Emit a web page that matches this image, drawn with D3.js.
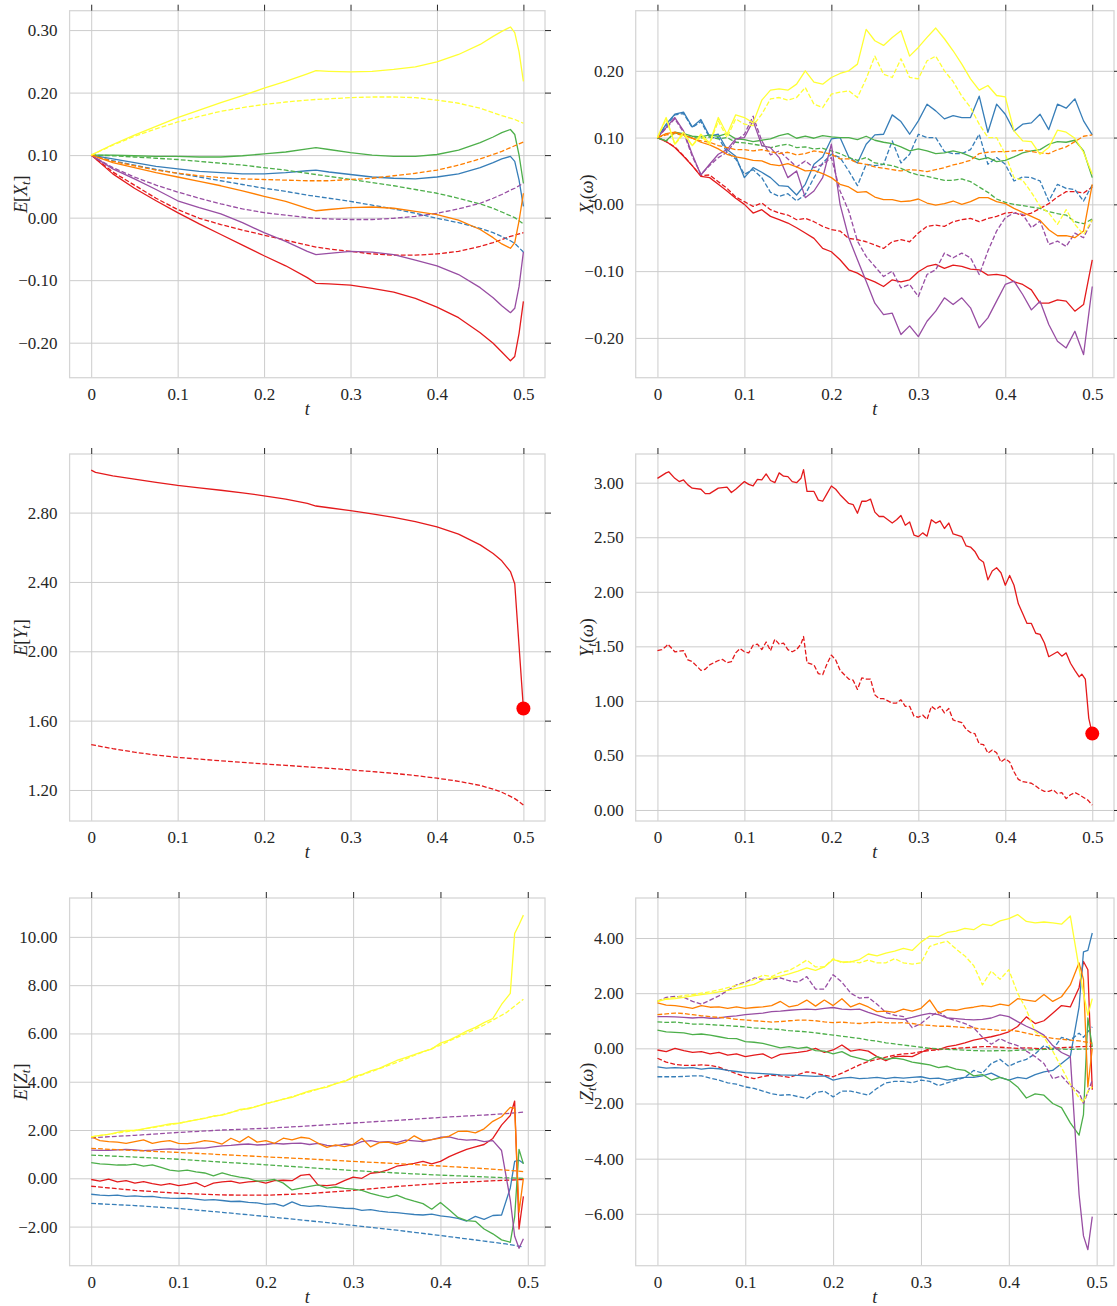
<!DOCTYPE html>
<html>
<head>
<meta charset="utf-8">
<script src="https://cdn.jsdelivr.net/npm/d3@7"></script>
<style>
  body { margin: 0; background: #fff; }
  svg text { font-family: "Liberation Serif", "DejaVu Serif", serif; fill: #262626; }
</style>
</head>
<body>
<div id="chart"></div>
<script>
// ---- time grids ----
const tEX = [0,0.025,0.05,0.075,0.1,0.125,0.15,0.175,0.2,0.225,0.25,0.26,0.275,0.3,0.325,0.35,0.375,0.4,0.425,0.45,0.465,0.475,0.485,0.49,0.495,0.5];
const tEY = [0,0.005,0.025,0.05,0.075,0.1,0.125,0.15,0.175,0.2,0.225,0.25,0.26,0.275,0.3,0.325,0.35,0.375,0.4,0.425,0.45,0.465,0.475,0.485,0.49,0.495,0.5];
const tPath = [0,0.01,0.02,0.03,0.04,0.05,0.06,0.07,0.08,0.09,0.1,0.11,0.12,0.13,0.14,0.15,0.16,0.17,0.18,0.19,0.2,0.21,0.22,0.23,0.24,0.25,0.26,0.27,0.28,0.29,0.3,0.31,0.32,0.33,0.34,0.35,0.36,0.37,0.38,0.39,0.4,0.41,0.42,0.43,0.44,0.45,0.46,0.47,0.48,0.49,0.5];
const tZ = [0,0.01,0.02,0.03,0.04,0.05,0.06,0.07,0.08,0.09,0.1,0.11,0.12,0.13,0.14,0.15,0.16,0.17,0.18,0.19,0.2,0.21,0.22,0.23,0.24,0.25,0.26,0.27,0.28,0.29,0.3,0.31,0.32,0.33,0.34,0.35,0.36,0.37,0.38,0.39,0.4,0.41,0.42,0.43,0.44,0.45,0.46,0.47,0.48,0.485,0.49,0.495];
const tZMean = [0,0.05,0.1,0.15,0.2,0.25,0.3,0.35,0.4,0.45,0.475,0.495];

// ---- E[X_t] ----
const exRedS = [0.100,0.070,0.047,0.027,0.008,-0.010,-0.027,-0.044,-0.061,-0.077,-0.096,-0.105,-0.106,-0.108,-0.113,-0.119,-0.129,-0.143,-0.160,-0.184,-0.201,-0.215,-0.229,-0.222,-0.185,-0.134];
const exRedD = [0.100,0.073,0.052,0.031,0.013,-0.001,-0.011,-0.020,-0.028,-0.036,-0.044,-0.047,-0.050,-0.054,-0.058,-0.060,-0.060,-0.058,-0.054,-0.046,-0.040,-0.035,-0.030,-0.028,-0.026,-0.024];
const exBlueS = [0.100,0.094,0.088,0.082,0.078,0.074,0.072,0.070,0.070,0.072,0.075,0.076,0.073,0.069,0.065,0.063,0.062,0.065,0.070,0.080,0.088,0.094,0.098,0.090,0.060,0.018];
const exBlueD = [0.100,0.091,0.084,0.077,0.071,0.065,0.059,0.053,0.047,0.042,0.036,0.034,0.031,0.026,0.020,0.014,0.007,-0.001,-0.008,-0.017,-0.024,-0.030,-0.037,-0.041,-0.048,-0.055];
const exGreenS = [0.100,0.100,0.099,0.098,0.098,0.097,0.097,0.099,0.102,0.105,0.110,0.112,0.109,0.104,0.100,0.098,0.098,0.101,0.108,0.120,0.129,0.136,0.141,0.133,0.100,0.055];
const exGreenD = [0.100,0.099,0.097,0.095,0.093,0.090,0.087,0.084,0.080,0.076,0.071,0.069,0.066,0.061,0.056,0.051,0.045,0.039,0.031,0.022,0.015,0.009,0.003,0.000,-0.005,-0.010];
const exPurpleS = [0.100,0.078,0.062,0.045,0.027,0.016,0.006,-0.008,-0.024,-0.038,-0.054,-0.059,-0.057,-0.054,-0.055,-0.059,-0.068,-0.077,-0.091,-0.112,-0.128,-0.141,-0.152,-0.145,-0.110,-0.055];
const exPurpleD = [0.100,0.080,0.065,0.052,0.041,0.031,0.022,0.014,0.008,0.004,0.000,-0.001,-0.002,-0.003,-0.003,-0.001,0.002,0.007,0.014,0.023,0.031,0.037,0.044,0.047,0.051,0.055];
const exOrangeS = [0.100,0.088,0.080,0.072,0.065,0.058,0.051,0.043,0.034,0.026,0.015,0.011,0.013,0.016,0.017,0.015,0.010,0.005,-0.004,-0.019,-0.032,-0.042,-0.049,-0.040,-0.005,0.039];
const exOrangeD = [0.100,0.090,0.083,0.076,0.071,0.067,0.064,0.062,0.061,0.060,0.059,0.059,0.059,0.061,0.063,0.067,0.071,0.076,0.084,0.094,0.101,0.106,0.112,0.115,0.118,0.121];
const exYellowS = [0.100,0.117,0.132,0.146,0.160,0.172,0.184,0.195,0.207,0.218,0.230,0.235,0.234,0.233,0.234,0.237,0.241,0.249,0.261,0.277,0.290,0.298,0.305,0.296,0.265,0.218];
const exYellowD = [0.100,0.116,0.130,0.142,0.153,0.162,0.170,0.176,0.181,0.185,0.188,0.189,0.190,0.192,0.193,0.193,0.192,0.188,0.183,0.175,0.168,0.163,0.159,0.157,0.154,0.151];

// ---- X_t(omega) ----
const xwRedS = [0.100,0.094,0.085,0.072,0.058,0.042,0.040,0.030,0.020,0.009, 0.000,-0.013,-0.008,-0.018,-0.023,-0.028,-0.035,-0.043,-0.051,-0.066, -0.071,-0.083,-0.098,-0.103,-0.111,-0.116,-0.123,-0.113,-0.116,-0.113, -0.101,-0.093,-0.090,-0.096,-0.091,-0.093,-0.097,-0.098,-0.106,-0.105, -0.107,-0.116,-0.120,-0.128,-0.148,-0.148,-0.143,-0.145,-0.160,-0.150,-0.083];
const xwRedD = [0.100,0.094,0.086,0.073,0.058,0.043,0.044,0.034,0.024,0.011, 0.004,-0.003,0.002,-0.008,-0.013,-0.016,-0.023,-0.021,-0.026,-0.033, -0.038,-0.040,-0.051,-0.053,-0.056,-0.061,-0.066,-0.056,-0.053,-0.056, -0.043,-0.033,-0.031,-0.033,-0.026,-0.023,-0.021,-0.026,-0.021,-0.018, -0.013,-0.012,-0.017,-0.013,-0.006,0.001,0.011,0.019,0.019,0.017,0.026];
const xwBlueS = [0.100,0.120,0.135,0.138,0.116,0.127,0.102,0.105,0.082,0.072, 0.040,0.055,0.048,0.040,0.028,0.027,0.014,0.030,0.060,0.071, 0.098,0.100,0.071,0.062,0.090,0.104,0.105,0.134,0.124,0.105, 0.125,0.150,0.140,0.128,0.133,0.130,0.130,0.162,0.108,0.150, 0.135,0.110,0.120,0.122,0.135,0.112,0.150,0.144,0.158,0.125,0.104];
const xwBlueD = [0.100,0.118,0.134,0.136,0.115,0.124,0.100,0.100,0.078,0.068, 0.045,0.052,0.040,0.018,0.012,0.016,0.005,0.015,0.040,0.062, 0.075,0.070,0.050,0.028,0.060,0.058,0.060,0.095,0.062,0.075, 0.105,0.100,0.100,0.079,0.076,0.076,0.082,0.105,0.060,0.070, 0.060,0.035,0.041,0.040,0.035,0.005,0.030,0.024,0.022,0.005,0.029];
const xwGreenS = [0.100,0.095,0.108,0.106,0.102,0.101,0.104,0.102,0.106,0.098, 0.097,0.094,0.096,0.098,0.103,0.106,0.099,0.102,0.099,0.103, 0.101,0.100,0.100,0.097,0.102,0.096,0.093,0.091,0.086,0.080, 0.083,0.080,0.076,0.077,0.080,0.077,0.072,0.067,0.070,0.064, 0.066,0.071,0.077,0.080,0.082,0.090,0.094,0.093,0.096,0.080,0.040];
const xwGreenD = [0.100,0.095,0.107,0.104,0.100,0.099,0.101,0.098,0.100,0.093, 0.092,0.090,0.088,0.085,0.088,0.090,0.085,0.086,0.083,0.084, 0.080,0.076,0.070,0.066,0.070,0.062,0.060,0.058,0.054,0.048, 0.044,0.042,0.039,0.036,0.036,0.038,0.034,0.026,0.018,0.008, 0.003,0.000,-0.002,-0.004,-0.006,-0.011,-0.014,-0.016,-0.026,-0.029,-0.022];
const xwPurpleS = [0.100,0.115,0.130,0.110,0.075,0.044,0.060,0.075,0.082,0.098, 0.100,0.125,0.088,0.085,0.070,0.040,0.050,0.010,0.020,0.040, 0.090,0.000,-0.050,-0.083,-0.115,-0.148,-0.165,-0.163,-0.195,-0.182, -0.198,-0.175,-0.160,-0.140,-0.150,-0.140,-0.155,-0.185,-0.170,-0.145, -0.120,-0.115,-0.135,-0.158,-0.145,-0.180,-0.205,-0.215,-0.190,-0.225,-0.123];
const xwPurpleD = [0.100,0.114,0.128,0.108,0.072,0.045,0.058,0.070,0.078,0.095, 0.105,0.132,0.095,0.074,0.080,0.068,0.056,0.065,0.055,0.060, 0.070,0.020,-0.010,-0.055,-0.078,-0.093,-0.108,-0.100,-0.125,-0.120, -0.138,-0.105,-0.098,-0.073,-0.080,-0.073,-0.080,-0.105,-0.070,-0.040, -0.020,-0.013,-0.015,-0.035,-0.025,-0.060,-0.055,-0.063,-0.043,-0.050,-0.023];
const xwOrangeS = [0.100,0.106,0.108,0.104,0.099,0.093,0.089,0.083,0.075,0.071, 0.069,0.066,0.065,0.060,0.058,0.061,0.056,0.050,0.051,0.046, 0.040,0.030,0.026,0.018,0.019,0.011,0.007,0.007,0.004,0.005, 0.008,0.002,-0.001,0.001,0.005,0.000,0.004,0.010,0.010,0.004, 0.001,-0.006,-0.012,-0.018,-0.024,-0.038,-0.047,-0.047,-0.050,-0.040,0.030];
const xwOrangeD = [0.100,0.104,0.106,0.103,0.099,0.095,0.093,0.088,0.085,0.082, 0.082,0.080,0.082,0.079,0.076,0.078,0.074,0.076,0.080,0.078, 0.075,0.068,0.068,0.062,0.060,0.056,0.054,0.052,0.050,0.052, 0.051,0.049,0.052,0.055,0.059,0.062,0.066,0.076,0.078,0.079, 0.079,0.080,0.081,0.079,0.077,0.076,0.082,0.086,0.094,0.102,0.104];
const xwYellowS = [0.100,0.130,0.090,0.108,0.088,0.105,0.092,0.130,0.105,0.134, 0.130,0.122,0.156,0.171,0.173,0.171,0.180,0.200,0.183,0.180, 0.190,0.196,0.200,0.210,0.262,0.245,0.238,0.250,0.260,0.222, 0.235,0.250,0.264,0.248,0.230,0.210,0.188,0.171,0.178,0.163, 0.161,0.110,0.095,0.094,0.075,0.085,0.111,0.108,0.099,0.078,0.045];
const xwYellowD = [0.100,0.128,0.090,0.105,0.088,0.102,0.090,0.125,0.100,0.128, 0.120,0.118,0.135,0.158,0.160,0.156,0.160,0.175,0.150,0.145, 0.165,0.168,0.170,0.160,0.188,0.222,0.195,0.190,0.218,0.190, 0.188,0.215,0.222,0.200,0.184,0.162,0.145,0.120,0.100,0.100, 0.075,0.040,0.036,0.018,-0.003,-0.013,-0.030,-0.008,-0.030,-0.045,-0.023];

// ---- E[Y_t] ----
const eyRedS = [3.045,3.032,3.012,2.993,2.974,2.957,2.943,2.929,2.914,2.897,2.878,2.853,2.838,2.828,2.811,2.793,2.773,2.748,2.717,2.676,2.614,2.564,2.522,2.460,2.390,2.030,1.670];
const eyRedD = [1.462,1.457,1.438,1.418,1.401,1.388,1.378,1.368,1.359,1.350,1.342,1.333,1.330,1.325,1.316,1.306,1.296,1.283,1.268,1.250,1.226,1.205,1.187,1.163,1.150,1.133,1.113];
const eyEnd = [0.5, 1.67];

// ---- Y_t(omega) : [t, value] ----
const ywRedS = [[0,3.04],[0.01,3.09],[0.013,3.10],[0.02,3.04],[0.025,3.01],[0.03,3.025],[0.035,2.98],[0.04,2.95],[0.05,2.94],[0.055,2.90],[0.06,2.90],[0.07,2.95],[0.08,2.96],[0.085,2.91],[0.09,2.94],[0.1,3.01],[0.105,2.985],[0.11,2.97],[0.115,3.03],[0.12,3.025],[0.125,3.08],[0.13,3.02],[0.135,3.00],[0.14,3.09],[0.145,3.06],[0.15,3.055],[0.155,3.01],[0.16,3.00],[0.165,3.04],[0.168,3.12],[0.172,2.92],[0.18,2.92],[0.185,2.84],[0.19,2.83],[0.195,2.90],[0.2,2.97],[0.205,2.94],[0.21,2.89],[0.22,2.81],[0.225,2.80],[0.23,2.72],[0.235,2.83],[0.24,2.83],[0.245,2.85],[0.25,2.73],[0.255,2.69],[0.26,2.69],[0.27,2.63],[0.275,2.66],[0.28,2.70],[0.285,2.61],[0.29,2.64],[0.295,2.52],[0.3,2.505],[0.305,2.54],[0.31,2.51],[0.315,2.66],[0.32,2.63],[0.325,2.65],[0.33,2.58],[0.335,2.63],[0.34,2.53],[0.35,2.505],[0.355,2.42],[0.36,2.41],[0.365,2.37],[0.37,2.30],[0.375,2.27],[0.38,2.11],[0.385,2.19],[0.39,2.22],[0.395,2.175],[0.4,2.06],[0.405,2.15],[0.41,2.06],[0.415,1.89],[0.42,1.80],[0.425,1.71],[0.43,1.71],[0.435,1.62],[0.44,1.61],[0.445,1.53],[0.45,1.405],[0.46,1.45],[0.465,1.41],[0.47,1.44],[0.475,1.345],[0.48,1.28],[0.485,1.22],[0.488,1.245],[0.492,1.20],[0.496,0.84],[0.5,0.70]];
const ywRedD = [[0,1.46],[0.005,1.47],[0.01,1.50],[0.012,1.52],[0.02,1.45],[0.03,1.46],[0.035,1.375],[0.04,1.36],[0.05,1.28],[0.055,1.29],[0.06,1.33],[0.07,1.37],[0.075,1.38],[0.08,1.35],[0.085,1.36],[0.09,1.44],[0.095,1.48],[0.1,1.45],[0.105,1.44],[0.11,1.51],[0.115,1.52],[0.12,1.47],[0.125,1.54],[0.13,1.46],[0.135,1.565],[0.14,1.52],[0.145,1.53],[0.15,1.47],[0.155,1.45],[0.16,1.47],[0.165,1.52],[0.168,1.59],[0.172,1.35],[0.18,1.33],[0.185,1.25],[0.19,1.24],[0.195,1.34],[0.2,1.42],[0.205,1.375],[0.21,1.28],[0.22,1.20],[0.225,1.19],[0.23,1.105],[0.235,1.21],[0.24,1.20],[0.245,1.20],[0.25,1.055],[0.255,1.02],[0.26,1.02],[0.27,0.98],[0.275,0.98],[0.28,1.01],[0.285,0.95],[0.29,0.95],[0.295,0.86],[0.3,0.85],[0.305,0.87],[0.31,0.83],[0.315,0.95],[0.32,0.92],[0.325,0.95],[0.33,0.89],[0.335,0.93],[0.34,0.825],[0.35,0.80],[0.355,0.74],[0.36,0.71],[0.365,0.70],[0.37,0.605],[0.375,0.60],[0.38,0.52],[0.385,0.55],[0.39,0.525],[0.395,0.44],[0.4,0.47],[0.405,0.44],[0.41,0.35],[0.415,0.28],[0.42,0.26],[0.43,0.245],[0.435,0.22],[0.44,0.19],[0.445,0.17],[0.45,0.17],[0.455,0.185],[0.46,0.15],[0.465,0.16],[0.47,0.105],[0.475,0.14],[0.48,0.16],[0.485,0.14],[0.49,0.115],[0.495,0.09],[0.5,0.045]];
const ywEnd = [0.5, 0.70];

// ---- E[Z_t] ----
const ezRedS = [-0.05,-0.12,-0.03,-0.15,-0.10,-0.20,-0.14,-0.22,-0.28,-0.22, -0.30,-0.25,-0.18,-0.35,-0.20,-0.15,-0.12,-0.20,-0.15,-0.12, -0.20,-0.10,-0.08,-0.10,0.12,0.16,-0.28,-0.30,-0.26,-0.10, 0.05,0.00,0.21,0.25,0.35,0.50,0.56,0.62,0.70,0.60, 0.70,0.90,1.05,1.20,1.30,1.40,1.65,2.20,2.60, 3.20,-2.10,-0.75];
const ezBlueS = [-0.66,-0.70,-0.72,-0.70,-0.75,-0.73,-0.76,-0.75,-0.80,-0.82, -0.83,-0.82,-0.86,-0.90,-0.88,-0.92,-0.96,-0.95,-1.00,-1.02, -1.08,-1.05,-1.15,-0.98,-1.12,-1.16,-1.13,-1.17,-1.20,-1.24, -1.25,-1.33,-1.30,-1.36,-1.40,-1.42,-1.46,-1.50,-1.52,-1.48, -1.56,-1.60,-1.66,-1.77,-1.58,-1.70,-1.54,-1.52,-0.40, 0.70,0.75,0.62];
const ezGreenS = [0.65,0.60,0.58,0.55,0.55,0.59,0.50,0.56,0.45,0.34, 0.30,0.34,0.27,0.22,0.10,0.22,0.12,0.05,0.00,-0.12, -0.10,-0.05,-0.20,-0.48,-0.41,-0.33,-0.27,-0.41,-0.36,-0.42, -0.45,-0.50,-0.62,-0.72,-0.80,-0.70,-0.84,-0.95,-1.05,-1.28, -1.00,-1.30,-1.62,-1.75,-1.78,-2.10,-2.30,-2.55,-2.65, -1.60,1.20,0.60];
const ezPurpleS = [1.17,1.16,1.16,1.18,1.20,1.18,1.15,1.17,1.20,1.22, 1.20,1.22,1.25,1.25,1.30,1.34,1.36,1.40,1.42,1.38, 1.40,1.45,1.42,1.45,1.46,1.40,1.45,1.36,1.34,1.42, 1.38,1.52,1.56,1.50,1.52,1.48,1.58,1.55,1.52,1.60, 1.70,1.72,1.62,1.58,1.60,1.52,1.56,1.15,-0.90, -2.40,-2.90,-2.50];
const ezOrangeS = [1.72,1.56,1.52,1.50,1.45,1.52,1.59,1.45,1.52,1.56, 1.45,1.44,1.48,1.56,1.52,1.42,1.66,1.50,1.73,1.50, 1.56,1.45,1.66,1.59,1.70,1.65,1.45,1.28,1.38,1.31, 1.40,1.66,1.30,1.48,1.50,1.40,1.50,1.76,1.56,1.60, 1.66,1.75,1.94,1.95,1.88,2.05,2.36,2.55,2.94, 2.90,-1.40,0.00];
const ezYellowS = [1.72,1.78,1.82,1.90,1.98,1.98,2.05,2.12,2.18,2.25, 2.28,2.35,2.42,2.48,2.58,2.62,2.72,2.85,2.88,2.98, 3.10,3.18,3.28,3.35,3.50,3.62,3.70,3.78,3.92,4.00, 4.20,4.30,4.45,4.55,4.72,4.88,5.00,5.12,5.25,5.35, 5.60,5.72,5.90,6.10,6.25,6.45,6.62,7.20,7.66, 10.14,10.50,10.90];
const ezRedD = [-0.33,-0.50,-0.62,-0.69,-0.70,-0.63,-0.50,-0.34,-0.21,-0.12,-0.08,-0.05];
const ezBlueD = [-1.04,-1.13,-1.25,-1.41,-1.58,-1.76,-1.95,-2.15,-2.37,-2.60,-2.72,-2.84];
const ezGreenD = [0.96,0.88,0.79,0.67,0.56,0.44,0.32,0.22,0.13,0.06,0.02,0.00];
const ezPurpleD = [1.68,1.78,1.90,2.00,2.07,2.17,2.29,2.40,2.52,2.62,2.68,2.74];
const ezOrangeD = [1.24,1.15,1.07,0.98,0.89,0.80,0.70,0.61,0.51,0.40,0.34,0.28];
const ezYellowD = [1.72,1.98,2.28,2.64,3.08,3.58,4.15,4.80,5.52,6.35,6.85,7.42];

// ---- Z_t(omega) ----
const zwRedS = [-0.06,-0.12,0.00,-0.08,-0.15,-0.12,-0.20,-0.15,-0.25,-0.20, -0.30,-0.25,-0.20,-0.36,-0.22,-0.18,-0.15,-0.10,0.00,-0.15, -0.06,0.12,-0.10,-0.05,-0.10,-0.30,-0.45,-0.30,-0.28,-0.30, -0.15,0.00,-0.05,0.06,0.12,0.20,0.30,0.36,0.42,0.50, 0.60,0.79,1.14,0.90,1.00,1.27,1.55,1.50,2.20, 3.15,2.85,-1.50];
const zwRedD = [-0.36,-0.50,-0.58,-0.62,-0.62,-0.60,-0.62,-0.68,-0.80,-0.92, -1.03,-1.10,-1.02,-0.97,-1.00,-1.05,-0.95,-0.85,-0.90,-0.98, -1.03,-0.90,-0.75,-0.60,-0.48,-0.40,-0.32,-0.25,-0.20,-0.18, -0.12,-0.08,-0.05,-0.02,0.00,0.02,0.04,0.06,0.06,0.04, 0.02,0.00,0.02,0.00,-0.02,0.00,0.02,0.04,0.06, 0.06,0.07,0.07];
const zwBlueS = [-0.67,-0.72,-0.70,-0.72,-0.70,-0.75,-0.72,-0.74,-0.80,-0.84, -0.88,-0.90,-0.92,-0.94,-0.96,-0.97,-0.98,-1.00,-1.02,-1.00, -1.15,-1.08,-1.05,-1.10,-1.08,-1.05,-1.10,-1.05,-1.08,-1.05, -1.03,-1.10,-1.08,-1.15,-1.10,-1.05,-1.05,-1.00,-0.90,-1.05, -1.15,-1.05,-1.10,-0.95,-0.85,-0.80,-0.55,-0.30,1.50, 3.50,3.55,4.18];
const zwBlueD = [-1.03,-1.03,-1.03,-1.02,-1.00,-1.00,-1.08,-1.15,-1.25,-1.30, -1.40,-1.45,-1.55,-1.65,-1.70,-1.68,-1.75,-1.82,-1.60,-1.55, -1.76,-1.55,-1.55,-1.62,-1.70,-1.45,-1.25,-1.20,-1.20,-1.25, -1.15,-1.20,-1.35,-1.25,-1.15,-1.05,-0.80,-0.90,-0.55,-0.40, -0.65,-0.50,-0.40,-0.20,0.10,-0.05,0.40,0.30,0.55, 0.40,0.60,0.78];
const zwGreenS = [0.66,0.60,0.58,0.56,0.50,0.52,0.48,0.42,0.36,0.35, 0.24,0.22,0.18,0.10,0.02,0.06,0.00,0.04,-0.08,-0.10, -0.20,-0.12,-0.28,-0.36,-0.45,-0.30,-0.40,-0.35,-0.40,-0.50, -0.55,-0.60,-0.70,-0.65,-0.75,-0.80,-1.00,-0.95,-1.15,-1.05, -1.15,-1.40,-1.80,-1.65,-1.70,-2.00,-2.15,-2.70,-3.15, -2.40,1.10,0.05];
const zwGreenD = [0.96,0.94,0.95,0.92,0.88,0.88,0.86,0.84,0.82,0.80, 0.78,0.74,0.72,0.70,0.68,0.64,0.62,0.60,0.56,0.52, 0.48,0.44,0.40,0.36,0.30,0.26,0.20,0.16,0.12,0.08, 0.04,0.00,-0.02,-0.04,-0.05,-0.07,-0.08,-0.09,-0.09,-0.08, -0.09,-0.07,-0.06,-0.05,-0.04,-0.03,-0.03,-0.04,-0.03, -0.03,-0.02,0.00];
const zwPurpleS = [1.15,1.15,1.14,1.12,1.10,1.12,1.09,1.10,1.15,1.18, 1.22,1.25,1.28,1.33,1.35,1.38,1.40,1.42,1.40,1.45, 1.48,1.42,1.40,1.42,1.30,1.20,1.10,1.08,1.05,1.12, 1.20,1.27,1.22,1.10,1.08,1.05,1.03,1.05,1.10,1.21, 1.15,0.97,0.80,0.66,0.48,0.10,-0.15,-0.30,-5.30, -6.80,-7.30,-6.10];
const zwPurpleD = [1.70,1.85,1.88,1.85,1.70,1.60,1.75,1.90,2.10,2.30, 2.40,2.55,2.50,2.50,2.55,2.45,2.40,2.60,2.15,2.15, 2.67,2.40,2.00,1.82,1.85,1.60,1.30,1.20,1.15,0.75, 0.90,1.15,1.33,1.10,1.00,0.90,0.75,0.40,0.15,0.35, 0.20,0.10,-0.10,-0.30,-0.55,-1.10,-1.00,-1.35,-1.60, -2.00,-1.60,-1.15];
const zwOrangeS = [1.65,1.57,1.55,1.50,1.45,1.55,1.49,1.50,1.45,1.50, 1.45,1.48,1.50,1.55,1.70,1.50,1.57,1.75,1.53,1.75, 1.55,1.80,1.50,1.63,1.50,1.33,1.35,1.30,1.42,1.35, 1.45,1.75,1.28,1.40,1.38,1.45,1.49,1.55,1.51,1.60, 1.55,1.80,1.75,1.70,1.95,1.70,1.87,2.30,3.10, 2.50,-1.40,0.00];
const zwOrangeD = [1.22,1.25,1.28,1.26,1.22,1.18,1.15,1.12,1.10,1.05, 1.03,1.00,0.98,0.95,0.97,1.00,1.02,1.02,1.00,0.96, 0.93,0.95,0.92,0.90,0.93,0.95,0.93,0.92,0.93,0.90, 0.85,0.83,0.80,0.80,0.78,0.75,0.74,0.70,0.68,0.65, 0.66,0.62,0.55,0.48,0.42,0.36,0.33,0.30,0.27, 0.24,0.22,0.18];
const zwYellowS = [1.69,1.78,1.80,1.85,1.90,1.95,1.99,2.05,2.10,2.17, 2.25,2.32,2.47,2.55,2.62,2.70,2.80,2.92,2.83,2.95, 3.22,3.13,3.13,3.22,3.42,3.35,3.45,3.52,3.62,3.55, 3.85,4.07,4.05,4.20,4.25,4.35,4.30,4.50,4.45,4.62, 4.70,4.85,4.60,4.55,4.58,4.55,4.50,4.80,2.90, 2.00,1.20,1.80];
const zwYellowD = [1.72,1.80,1.85,1.92,1.95,2.00,2.05,2.12,2.20,2.28, 2.35,2.50,2.65,2.60,2.75,2.82,3.00,3.20,2.95,2.95, 3.25,3.10,3.15,3.10,3.20,3.10,3.10,3.25,3.10,3.05, 3.10,3.70,3.80,3.88,3.60,3.35,3.00,2.30,2.80,2.50, 2.85,2.00,1.40,0.60,0.40,-0.10,-0.70,-1.30,-1.80, -1.95,-1.55,-1.40];

// ---- ticks ----
const tTicks = [0, 0.1, 0.2, 0.3, 0.4, 0.5];
const exTicks = [-0.2, -0.1, 0, 0.1, 0.2, 0.3];
const xwTicks = [-0.2, -0.1, 0, 0.1, 0.2];
const eyTicks = [1.2, 1.6, 2.0, 2.4, 2.8];
const ywTicks = [0, 0.5, 1, 1.5, 2, 2.5, 3];
const ezTicks = [-2, 0, 2, 4, 6, 8, 10];
const zwTicks = [-6, -4, -2, 0, 2, 4];

const RED = "#e41a1c", BLUE = "#377eb8", GREEN = "#4daf4a",
      PURPLE = "#984ea3", ORANGE = "#ff7f00", YELLOW = "#ffff33";
const SERIF = '"Liberation Serif", "DejaVu Serif", serif';

const svg = d3.select("#chart").append("svg")
  .attr("width", 1117).attr("height", 1306);

const fmtT = d => d === 0 ? "0" : d3.format(".1f")(d);
const fmtY = d3.format(".2f");

function zipT(t, v) { return d3.zip(t, v); }

function drawPanel(p) {
  const x = d3.scaleLinear().domain(p.xDomain).range([p.left, p.right]);
  const y = d3.scaleLinear().domain(p.yDomain).range([p.bottom, p.top]);
  const g = svg.append("g");

  // grid
  const gx = g.append("g").attr("transform", `translate(0,${p.bottom})`)
    .call(d3.axisBottom(x).tickValues(tTicks).tickSize(-(p.bottom - p.top)).tickFormat(""));
  const gy = g.append("g").attr("transform", `translate(${p.left},0)`)
    .call(d3.axisLeft(y).tickValues(p.yTicks).tickSize(-(p.right - p.left)).tickFormat(""));
  [gx, gy].forEach(a => {
    a.select(".domain").remove();
    a.selectAll("line").attr("stroke", "#cccccc").attr("stroke-width", 1);
  });

  // frame
  g.append("rect").attr("x", p.left).attr("y", p.top)
    .attr("width", p.right - p.left).attr("height", p.bottom - p.top)
    .attr("fill", "none").attr("stroke", "#d5d5d5").attr("stroke-width", 1.25);

  // tick marks on top and right
  const tt = g.append("g").attr("transform", `translate(0,${p.top})`)
    .call(d3.axisTop(x).tickValues(tTicks).tickSize(6).tickFormat(""));
  const tr = g.append("g").attr("transform", `translate(${p.right},0)`)
    .call(d3.axisRight(y).tickValues(p.yTicks).tickSize(6).tickFormat(""));
  [tt, tr].forEach(a => {
    a.select(".domain").remove();
    a.selectAll("line").attr("stroke", "#262626").attr("stroke-width", 1);
  });

  // tick labels
  const lx = g.append("g").attr("transform", `translate(0,${p.bottom})`)
    .call(d3.axisBottom(x).tickValues(tTicks).tickSize(0).tickPadding(10).tickFormat(fmtT));
  const ly = g.append("g").attr("transform", `translate(${p.left},0)`)
    .call(d3.axisLeft(y).tickValues(p.yTicks).tickSize(0).tickPadding(12).tickFormat(fmtY));
  [lx, ly].forEach(a => {
    a.select(".domain").remove();
    a.attr("font-family", SERIF).attr("font-size", 17);
    a.selectAll("text").attr("fill", "#262626")
      .style("font-family", SERIF).style("font-size", "17px");
  });

  // series
  const line = d3.line().x(d => x(d[0])).y(d => y(d[1]));
  p.series.forEach(s => {
    g.append("path").datum(s.data)
      .attr("d", line)
      .attr("fill", "none")
      .attr("stroke", s.color)
      .attr("stroke-width", 1.3)
      .attr("stroke-linejoin", "round")
      .attr("stroke-dasharray", s.dash ? "4.8,2.1" : null);
  });

  if (p.dot) {
    g.append("circle").attr("cx", x(p.dot[0])).attr("cy", y(p.dot[1]))
      .attr("r", 7).attr("fill", "#ff0000");
  }

  // x label
  g.append("text").attr("x", (p.left + p.right) / 2).attr("y", p.bottom + 37)
    .attr("text-anchor", "middle")
    .style("font-family", SERIF).style("font-size", "18px").style("font-style", "italic")
    .text("t");

  // y label
  const yl = g.append("text")
    .attr("transform", `translate(${p.left - 49},${(p.top + p.bottom) / 2}) rotate(-90)`)
    .attr("text-anchor", "middle").attr("dominant-baseline", "central")
    .style("font-family", SERIF).style("font-size", "18px");
  p.ylabel.forEach(part => {
    const ts = yl.append("tspan").text(part.s);
    if (part.i) ts.style("font-style", "italic");
    if (part.sub) ts.style("font-size", "13px").attr("dy", 4);
    if (part.up) ts.attr("dy", -4);
  });
}

function pair(t, s, d, color) {
  return [{ data: zipT(t, s), color, dash: false }, { data: zipT(t, d), color, dash: true }];
}

const xFull = [-0.025, 0.525];
const xZ = [-0.02475, 0.51975];

drawPanel({
  left: 69.6, right: 545, top: 10.7, bottom: 377.7,
  xDomain: xFull, yDomain: [-0.256, 0.331], yTicks: exTicks,
  ylabel: [{s:"E",i:1},{s:"["},{s:"X",i:1},{s:"t",i:1,sub:1},{s:"]",up:1}],
  series: [].concat(
    pair(tEX, exRedS, exRedD, RED), pair(tEX, exBlueS, exBlueD, BLUE),
    pair(tEX, exGreenS, exGreenD, GREEN), pair(tEX, exPurpleS, exPurpleD, PURPLE),
    pair(tEX, exOrangeS, exOrangeD, ORANGE), pair(tEX, exYellowS, exYellowD, YELLOW))
});

drawPanel({
  left: 635.7, right: 1114, top: 10.7, bottom: 377.7,
  xDomain: xFull, yDomain: [-0.2596, 0.290], yTicks: xwTicks,
  ylabel: [{s:"X",i:1},{s:"t",i:1,sub:1},{s:"(",up:1},{s:"ω",i:1},{s:")"}],
  series: [].concat(
    pair(tPath, xwRedS, xwRedD, RED), pair(tPath, xwBlueS, xwBlueD, BLUE),
    pair(tPath, xwGreenS, xwGreenD, GREEN), pair(tPath, xwPurpleS, xwPurpleD, PURPLE),
    pair(tPath, xwOrangeS, xwOrangeD, ORANGE), pair(tPath, xwYellowS, xwYellowD, YELLOW))
});

drawPanel({
  left: 69.6, right: 545, top: 454, bottom: 821,
  xDomain: xFull, yDomain: [1.021, 3.138], yTicks: eyTicks,
  ylabel: [{s:"E",i:1},{s:"["},{s:"Y",i:1},{s:"t",i:1,sub:1},{s:"]",up:1}],
  series: pair(tEY, eyRedS, eyRedD, RED),
  dot: eyEnd
});

drawPanel({
  left: 635.7, right: 1114, top: 454, bottom: 821,
  xDomain: xFull, yDomain: [-0.101, 3.263], yTicks: ywTicks,
  ylabel: [{s:"Y",i:1},{s:"t",i:1,sub:1},{s:"(",up:1},{s:"ω",i:1},{s:")"}],
  series: [{ data: ywRedS, color: RED, dash: false }, { data: ywRedD, color: RED, dash: true }],
  dot: ywEnd
});

drawPanel({
  left: 69.6, right: 545, top: 898, bottom: 1265.7,
  xDomain: xZ, yDomain: [-3.62, 11.61], yTicks: ezTicks,
  ylabel: [{s:"E",i:1},{s:"["},{s:"Z",i:1},{s:"t",i:1,sub:1},{s:"]",up:1}],
  series: [
    { data: zipT(tZ, ezRedS), color: RED }, { data: zipT(tZMean, ezRedD), color: RED, dash: true },
    { data: zipT(tZ, ezBlueS), color: BLUE }, { data: zipT(tZMean, ezBlueD), color: BLUE, dash: true },
    { data: zipT(tZ, ezGreenS), color: GREEN }, { data: zipT(tZMean, ezGreenD), color: GREEN, dash: true },
    { data: zipT(tZ, ezPurpleS), color: PURPLE }, { data: zipT(tZMean, ezPurpleD), color: PURPLE, dash: true },
    { data: zipT(tZ, ezOrangeS), color: ORANGE }, { data: zipT(tZMean, ezOrangeD), color: ORANGE, dash: true },
    { data: zipT(tZ, ezYellowS), color: YELLOW }, { data: zipT(tZMean, ezYellowD), color: YELLOW, dash: true }
  ]
});

drawPanel({
  left: 635.7, right: 1114, top: 898, bottom: 1265.7,
  xDomain: xZ, yDomain: [-7.88, 5.45], yTicks: zwTicks,
  ylabel: [{s:"Z",i:1},{s:"t",i:1,sub:1},{s:"(",up:1},{s:"ω",i:1},{s:")"}],
  series: [].concat(
    pair(tZ, zwRedS, zwRedD, RED), pair(tZ, zwBlueS, zwBlueD, BLUE),
    pair(tZ, zwGreenS, zwGreenD, GREEN), pair(tZ, zwPurpleS, zwPurpleD, PURPLE),
    pair(tZ, zwOrangeS, zwOrangeD, ORANGE), pair(tZ, zwYellowS, zwYellowD, YELLOW))
});
</script>
</body>
</html>
